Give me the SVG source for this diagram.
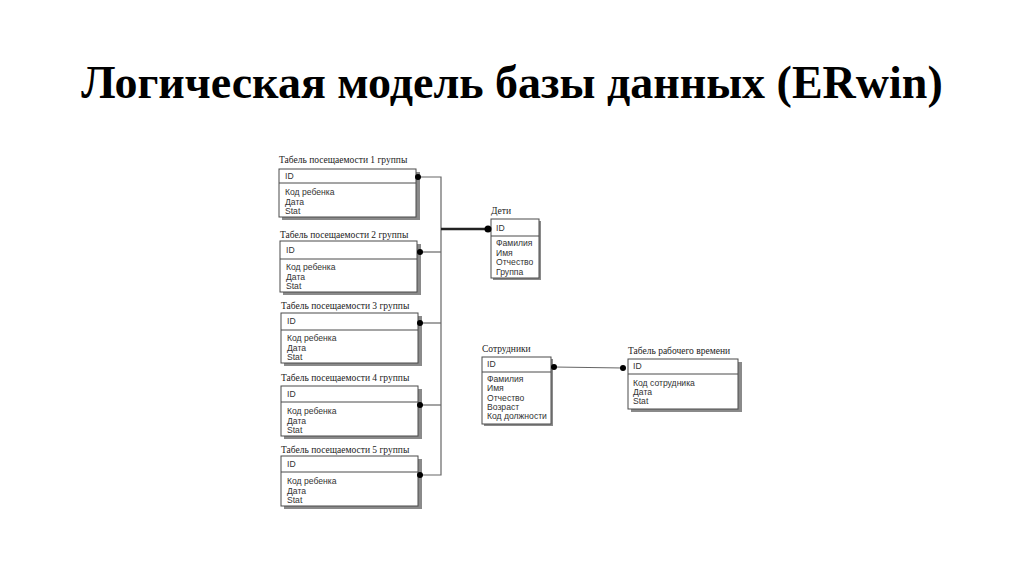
<svg xmlns="http://www.w3.org/2000/svg" width="1024" height="574" viewBox="0 0 1024 574">
<style>
.h{font-family:"Liberation Serif","Times New Roman",serif;font-weight:bold;font-size:46px;fill:#000}
.t{font-family:"Liberation Serif","Times New Roman",serif;font-size:9.5px;fill:#222}
.a{font-family:"Liberation Sans",Arial,sans-serif;font-size:8.6px;fill:#333}
.box{fill:#fff;stroke:#4a4a4a;stroke-width:1}
.sh{fill:#8a8a8a}
.div{stroke:#4a4a4a;stroke-width:1}
.ln{stroke:#666;stroke-width:1.2;fill:none}
.thick{stroke:#222;stroke-width:2.5;fill:none}
.dot{fill:#000}
</style>
<rect width="1024" height="574" fill="#fff"/>
<text class="h" x="512" y="98" text-anchor="middle">Логическая модель базы данных (ERwin)</text>

<g id="tab1">
<text class="t" x="279" y="163">Табель посещаемости 1 группы</text>
<rect class="sh" x="282" y="172" width="138" height="48"/>
<rect class="box" x="279" y="169" width="137" height="48"/>
<line class="div" x1="279" y1="183" x2="416" y2="183"/>
<text class="a" x="285" y="179">ID</text>
<text class="a" x="285" y="195">Код ребенка</text>
<text class="a" x="285" y="204.5">Дата</text>
<text class="a" x="285" y="214">Stat</text>
</g>

<g id="tab2">
<text class="t" x="280" y="238">Табель посещаемости 2 группы</text>
<rect class="sh" x="283" y="244" width="138" height="51"/>
<rect class="box" x="280" y="241" width="137" height="51"/>
<line class="div" x1="280" y1="259" x2="417" y2="259"/>
<text class="a" x="286" y="253">ID</text>
<text class="a" x="286" y="270">Код ребенка</text>
<text class="a" x="286" y="279.5">Дата</text>
<text class="a" x="286" y="289">Stat</text>
</g>

<g id="tab3">
<text class="t" x="281" y="309">Табель посещаемости 3 группы</text>
<rect class="sh" x="284" y="316" width="138" height="50"/>
<rect class="box" x="281" y="313" width="137" height="50"/>
<line class="div" x1="281" y1="330" x2="418" y2="330"/>
<text class="a" x="287" y="324">ID</text>
<text class="a" x="287" y="341">Код ребенка</text>
<text class="a" x="287" y="350.5">Дата</text>
<text class="a" x="287" y="360">Stat</text>
</g>

<g id="tab4">
<text class="t" x="281" y="381">Табель посещаемости 4 группы</text>
<rect class="sh" x="284" y="389" width="138" height="50"/>
<rect class="box" x="281" y="386" width="137" height="50"/>
<line class="div" x1="281" y1="402" x2="418" y2="402"/>
<text class="a" x="287" y="397">ID</text>
<text class="a" x="287" y="414">Код ребенка</text>
<text class="a" x="287" y="423.5">Дата</text>
<text class="a" x="287" y="433">Stat</text>
</g>

<g id="tab5">
<text class="t" x="281" y="453">Табель посещаемости 5 группы</text>
<rect class="sh" x="284" y="459" width="138" height="50"/>
<rect class="box" x="281" y="456" width="137" height="50"/>
<line class="div" x1="281" y1="472" x2="418" y2="472"/>
<text class="a" x="287" y="467">ID</text>
<text class="a" x="287" y="484">Код ребенка</text>
<text class="a" x="287" y="493.5">Дата</text>
<text class="a" x="287" y="503">Stat</text>
</g>

<g id="deti">
<text class="t" x="491" y="214">Дети</text>
<rect class="sh" x="493" y="221" width="48" height="59"/>
<rect class="box" x="491" y="219" width="48" height="59"/>
<line class="div" x1="491" y1="236" x2="539" y2="236"/>
<text class="a" x="496" y="230.5">ID</text>
<text class="a" x="496" y="246">Фамилия</text>
<text class="a" x="496" y="255.5">Имя</text>
<text class="a" x="496" y="265">Отчество</text>
<text class="a" x="496" y="274.5">Группа</text>
</g>

<g id="sotrudniki">
<text class="t" x="482" y="352">Сотрудники</text>
<rect class="sh" x="484" y="359" width="69" height="67"/>
<rect class="box" x="482" y="357" width="69" height="67"/>
<line class="div" x1="482" y1="372" x2="551" y2="372"/>
<text class="a" x="487" y="367">ID</text>
<text class="a" x="487" y="382">Фамилия</text>
<text class="a" x="487" y="391">Имя</text>
<text class="a" x="487" y="400.5">Отчество</text>
<text class="a" x="487" y="410">Возраст</text>
<text class="a" x="487" y="419">Код должности</text>
</g>

<g id="tabel_rab">
<text class="t" x="628" y="354">Табель рабочего времени</text>
<rect class="sh" x="631" y="362" width="111" height="50"/>
<rect class="box" x="628" y="359" width="110" height="50"/>
<line class="div" x1="628" y1="374" x2="738" y2="374"/>
<text class="a" x="633" y="368.5">ID</text>
<text class="a" x="633" y="386">Код сотрудника</text>
<text class="a" x="633" y="395">Дата</text>
<text class="a" x="633" y="404">Stat</text>
</g>

<g id="connectors">
<polyline class="ln" points="420,177 441,177 441,475 420,475"/>
<line class="ln" x1="421" y1="252" x2="441" y2="252"/>
<line class="ln" x1="421" y1="323" x2="441" y2="323"/>
<line class="ln" x1="421" y1="405" x2="441" y2="405"/>
<line class="thick" x1="441" y1="229" x2="488" y2="229"/>
<line class="ln" x1="554" y1="367" x2="623" y2="368"/>
<circle class="dot" cx="418" cy="177" r="3"/>
<circle class="dot" cx="420" cy="252" r="3"/>
<circle class="dot" cx="420" cy="323" r="3"/>
<circle class="dot" cx="420" cy="405" r="3"/>
<circle class="dot" cx="420" cy="475" r="3"/>
<circle class="dot" cx="488" cy="229" r="3.5"/>
<circle class="dot" cx="554" cy="367" r="3"/>
<circle class="dot" cx="623" cy="368" r="3"/>
</g>
</svg>
